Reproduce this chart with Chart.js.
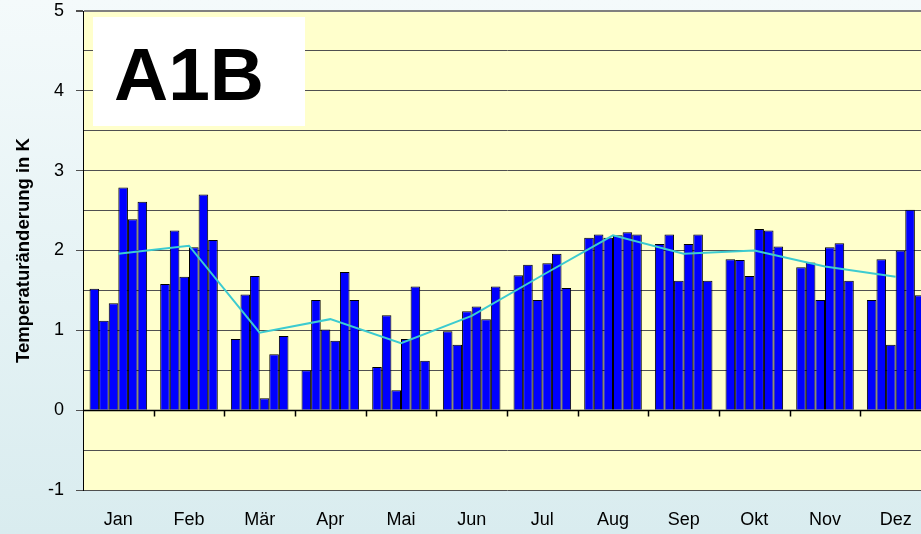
<!DOCTYPE html>
<html>
<head>
<meta charset="utf-8">
<script src="https://cdn.jsdelivr.net/npm/chart.js@4/dist/chart.umd.min.js"></script>
<style>
  html, body { margin: 0; padding: 0; overflow: hidden; }
  body {
    width: 921px; height: 534px;
    background: linear-gradient(to bottom, #f4fafb 0%, #e6f3f5 50%, #d9ecef 100%);
    position: relative;
  }
  #wrap { position: absolute; left: 0; top: 0; width: 960px; height: 534px; }
  #label {
    position: absolute; left: 93px; top: 17px; width: 212px; height: 109px;
    background: #fff; box-sizing: border-box; padding-left: 21px; overflow: hidden;
    font: bold 75px "Liberation Sans", Arial, sans-serif; line-height: 114px; color: #000;
  }
</style>
</head>
<body>
<div id="wrap"><canvas id="myChart" width="960" height="534"></canvas></div>
<div id="label">A1B</div>
<script>
const months = ['Jan', 'Feb', 'Mär', 'Apr', 'Mai', 'Jun', 'Jul', 'Aug', 'Sep', 'Okt', 'Nov', 'Dez'];

// one array per bar position inside a month
const p1 = [1.52, 1.58, 0.89, 0.50, 0.54, 0.99, 1.69, 2.16, 2.08, 1.89, 1.79, 1.38];
const p2 = [1.12, 2.25, 1.45, 1.38, 1.19, 0.82, 1.82, 2.20, 2.20, 1.88, 1.85, 1.89];
const p3 = [1.34, 1.67, 1.68, 1.01, 0.25, 1.24, 1.38, 2.16, 1.62, 1.68, 1.38, 0.82];
const p4 = [2.79, 2.04, 0.15, 0.87, 0.89, 1.30, 1.84, 2.19, 2.08, 2.27, 2.04, 2.00];
const p5 = [2.39, 2.70, 0.70, 1.73, 1.55, 1.14, 1.96, 2.23, 2.20, 2.25, 2.09, 2.51];
const p6 = [2.61, 2.13, 0.93, 1.38, 0.62, 1.55, 1.53, 2.20, 1.62, 2.05, 1.62, 1.44];
const monthMean = [1.96, 2.06, 0.97, 1.14, 0.84, 1.18, 1.69, 2.19, 1.96, 2.00, 1.80, 1.67];

const yTicks = [-1, 0, 1, 2, 3, 4, 5];

const font = '"Liberation Sans", Arial, sans-serif';

const barSet = (arr) => ({
  type: 'bar',
  data: arr,
  backgroundColor: '#0000ff',
  borderColor: '#000000',
  borderWidth: 1,
  categoryPercentage: 0.815,
  barPercentage: 1.0,
  order: 1
});

// yellow plot area, zero line with month ticks
const plotDeco = {
  id: 'plotDeco',
  beforeDraw(chart) {
    const {ctx, chartArea: a} = chart;
    ctx.save();
    ctx.fillStyle = '#ffffcc';
    ctx.fillRect(a.left, a.top, a.right - a.left, a.bottom - a.top);
    ctx.restore();
  },
  afterDatasetsDraw(chart) {
    const {ctx, chartArea: a, scales} = chart;
    const y0 = Math.round(scales.y.getPixelForValue(0)) + 0.5;
    ctx.save();
    ctx.strokeStyle = '#000';
    ctx.lineWidth = 1.5;
    ctx.beginPath();
    ctx.moveTo(a.left, y0);
    ctx.lineTo(a.right, y0);
    for (let i = 1; i < months.length; i++) {
      const x = Math.round((scales.x.getPixelForValue(i - 1) + scales.x.getPixelForValue(i)) / 2) + 0.5;
      ctx.moveTo(x, y0);
      ctx.lineTo(x, y0 + 6);
    }
    ctx.stroke();
    ctx.restore();
  }
};

const ctx = document.getElementById('myChart').getContext('2d');
const myChart = new Chart(ctx, {
  data: {
    labels: months,
    datasets: [
      {
        type: 'line',
        data: monthMean,
        borderColor: '#3ccbd0',
        borderWidth: 2,
        pointRadius: 0,
        tension: 0,
        order: 0
      },
      barSet(p1), barSet(p2), barSet(p3), barSet(p4), barSet(p5), barSet(p6)
    ]
  },
  options: {
    responsive: false,
    animation: false,
    layout: { padding: { top: 11, right: 29, bottom: 0, left: 0 } },
    scales: {
      x: {
        grid: { display: false, drawTicks: false },
        border: { display: false },
        ticks: { color: '#000', font: { family: font, size: 18 }, padding: 19 },
        afterFit: (s) => { s.height = 44; }
      },
      y: {
        min: -1,
        max: 5,
        ticks: {
          stepSize: 0.5,
          color: '#000',
          font: { family: font, size: 18 },
          padding: 12,
          callback: (v) => yTicks.includes(v) ? v : ''
        },
        grid: {
          color: (c) => c.tick.value === 5 ? '#808080' : '#505050',
          lineWidth: (c) => c.tick.value === 5 ? 2 : 1,
          tickLength: 7,
          tickColor: (c) => Number.isInteger(c.tick.value) ? '#505050' : 'rgba(0,0,0,0)'
        },
        border: { display: true, color: '#000', width: 1 },
        title: {
          display: true,
          text: 'Temperaturänderung in K',
          color: '#000',
          font: { family: font, size: 18.5, weight: 'bold' },
          padding: { top: 13, bottom: 0 }
        },
        afterFit: (s) => { s.width = 83; s.paddingTop = 0; s.paddingBottom = 0; }
      }
    },
    plugins: {
      legend: { display: false },
      tooltip: { enabled: false }
    }
  },
  plugins: [plotDeco]
});
</script>
</body>
</html>
